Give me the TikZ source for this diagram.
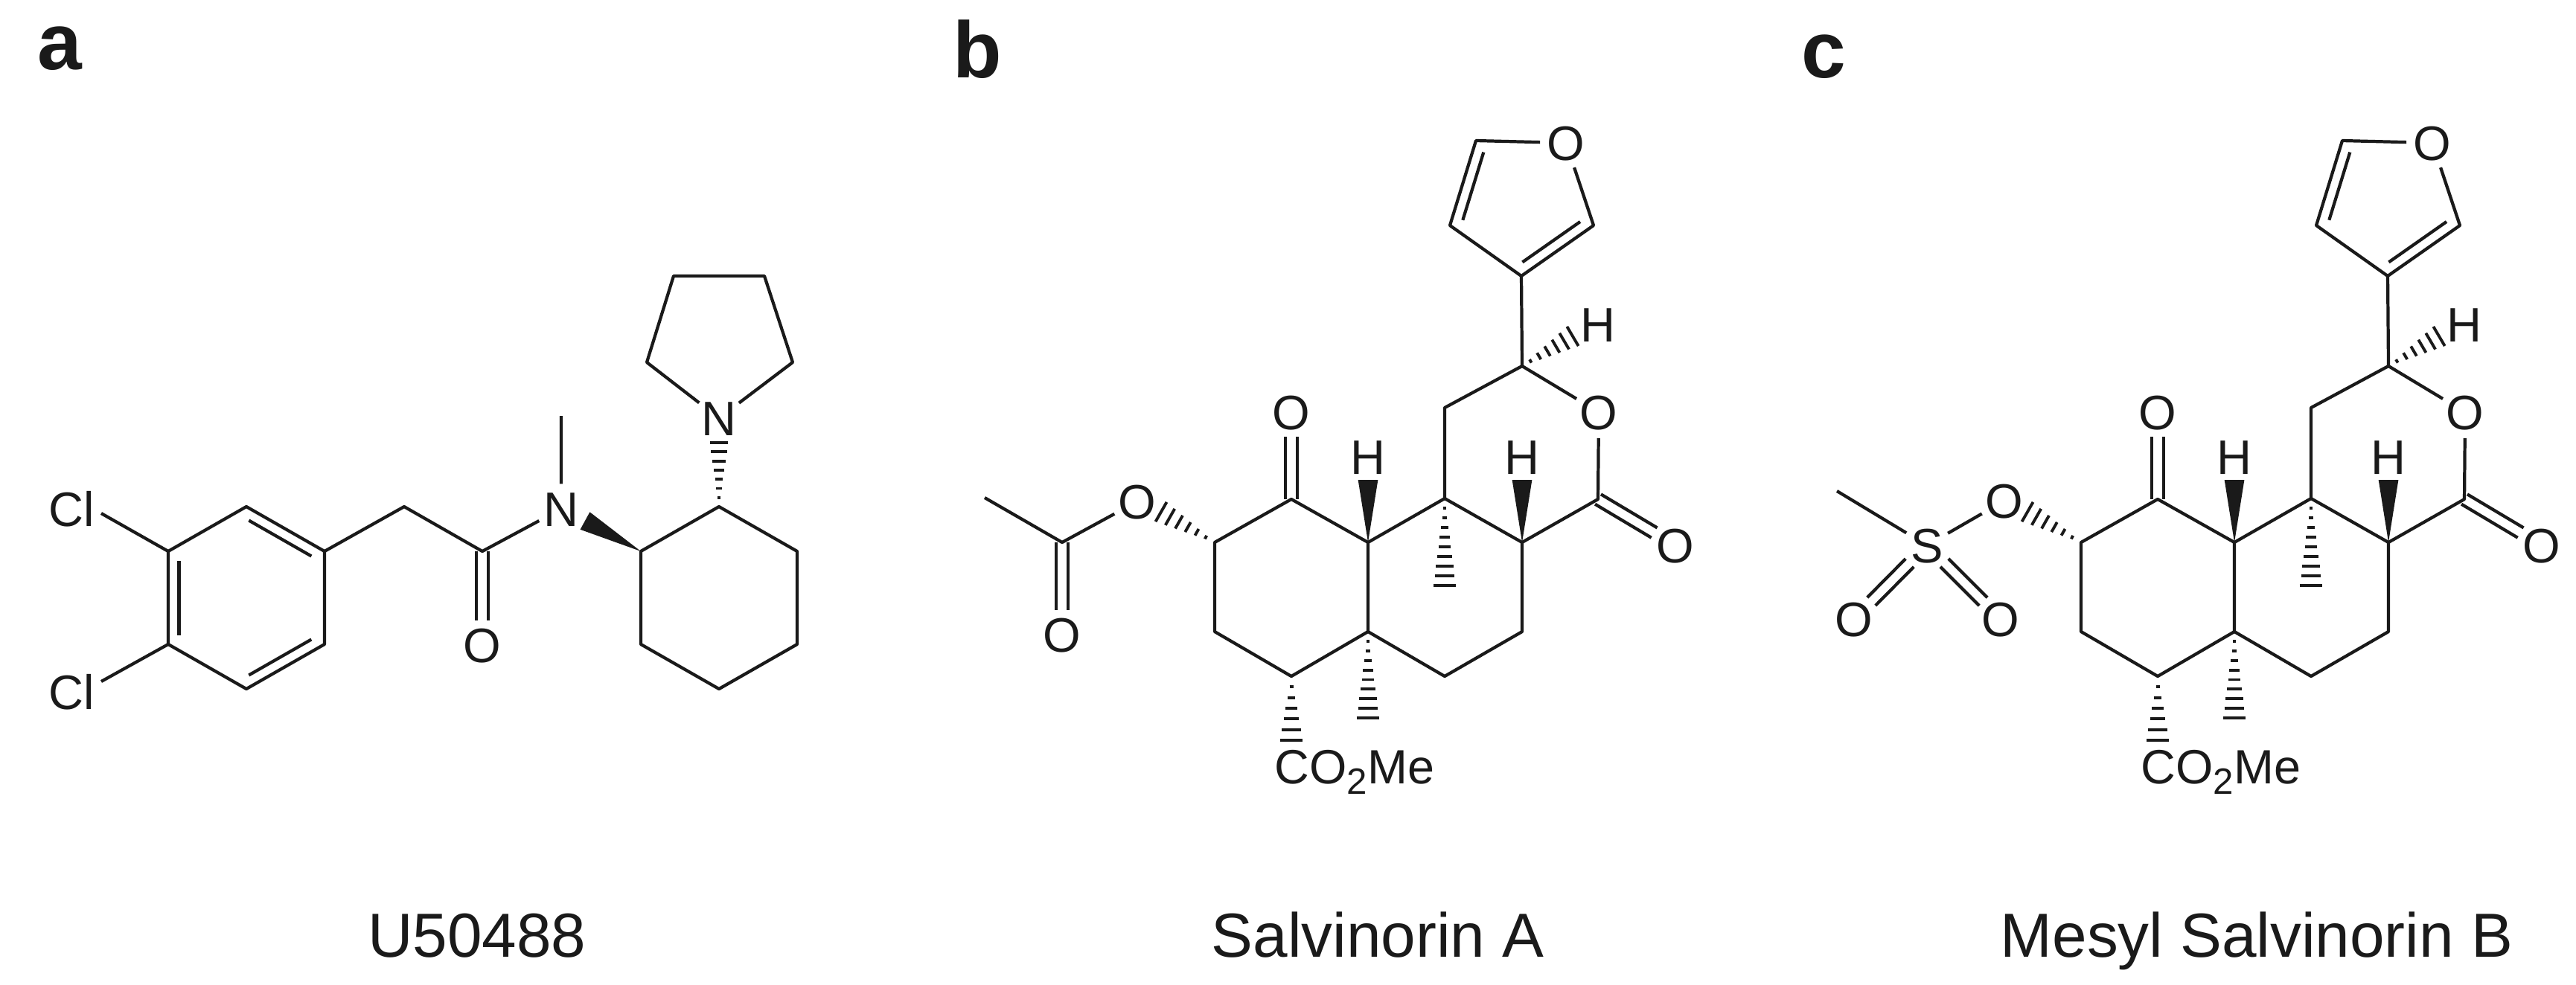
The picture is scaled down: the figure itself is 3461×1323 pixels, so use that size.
\documentclass[tikz,border=0pt]{standalone}
\usepackage{xcolor}
\usepackage{fontspec}
\setmainfont{Liberation Sans}
\usetikzlibrary{calc}
\definecolor{ink}{HTML}{1A1A1A}
\tikzset{
	bond/.style={ink,line width=1.2pt,line join=round},
	hash/.style={ink,line width=1.1pt},
	atom/.style={circle,inner sep=0pt,text=ink,font=\fontsize{18.5}{22}\selectfont,text height=13.2pt,text depth=0pt},
	group/.style={inner sep=0pt,text=ink,font=\fontsize{18.4}{22}\selectfont,anchor=base west},
	title/.style={text=ink,font=\fontsize{23.8}{28}\selectfont,anchor=base},
	panel/.style={text=ink,font=\fontsize{30.5}{36}\selectfont\bfseries,anchor=base}
}
\newcommand{\innerbond}[3]{\draw[bond] ($(#1)!.1!(#2)!4.1pt!#3:(#2)$)--($(#2)!.1!(#1)!4.1pt!-#3:(#1)$);}
\newcommand{\twobond}[3][]{
	\draw[bond,shorten >=9.4pt,#1] ($(#2)!2.2pt!90:(#3)$)--($(#3)!2.2pt!-90:(#2)$);
	\draw[bond,shorten >=9.4pt,#1] ($(#2)!2.2pt!-90:(#3)$)--($(#3)!2.2pt!90:(#2)$);
}
\newcommand{\wedgebond}[2]{\fill[ink] (#1)--($(#2)!3.8pt!90:(#1)$)--($(#2)!3.8pt!-90:(#1)$)--cycle;}
\newcommand{\hashbond}[4][4.3pt]{\foreach \i in {1,...,#4}{\draw[hash] ($(#2)!\i/#4!(#3)!\i/#4*#1!90:(#2)$)--($(#2)!\i/#4!(#3)!\i/#4*#1!-90:(#2)$);}}
% the part that b and c share, at the coordinates of b
\newcommand{\salvcore}{
	\node (furO) at (2104,192)[atom]{O};
	\coordinate (fur2) at (1983,189);
	\coordinate (fur3) at (1948,303);
	\coordinate (fur4) at (2044,371);
	\coordinate (fur5) at (2141,303);
	\coordinate (cH) at (2045,492);
	\coordinate (cH2) at (1941,548);
	\node (ringO) at (2148,554)[atom]{O};
	\coordinate (lac) at (2147,671);
	\node (lacO) at (2251,733)[atom]{O};
	\coordinate (cq) at (1941,670);
	\coordinate (cR) at (2045,729);
	\coordinate (cL) at (1838,729);
	\coordinate (keto) at (1735,671);
	\node (ketoO) at (1735,554)[atom]{O};
	\coordinate (cOx) at (1632,729);
	\coordinate (c1) at (1632,849);
	\coordinate (c2) at (1735,909);
	\coordinate (c3) at (1838,849);
	\coordinate (c4) at (1941,909);
	\coordinate (c5) at (2045,849);
	\node (hTop) at (2147,436)[atom]{H};
	\node (hL) at (1838,614)[atom]{H};
	\node (hR) at (2045,614)[atom]{H};
	\coordinate (hTopEnd) at (2113,452);
	\coordinate (hLEnd) at (1838,645);
	\coordinate (hREnd) at (2045,645);
	\coordinate (meQ) at (1941,787);
	\coordinate (meL) at (1838,965);
	\coordinate (estEnd) at (1735,995);
	\coordinate (oxEnd) at (1560,688);
	\node (est) at (1712,1053)[group]{CO\raisebox{-4pt}{\fontsize{14}{14}\selectfont 2}Me};
	\draw[bond] (furO)--(fur2)--(fur3)--(fur4)--(fur5)--(furO);
	\innerbond{fur2}{fur3}{90}
	\innerbond{fur4}{fur5}{90}
	\draw[bond] (fur4)--(cH)--(cH2)--(cq)--(cL)--(keto)--(cOx)--(c1)--(c2)--(c3)--(cL);
	\draw[bond] (cH)--(ringO)--(lac)--(cR)--(cq);
	\draw[bond] (cR)--(c5)--(c4)--(c3);
	\twobond{keto}{ketoO}
	\twobond{lac}{lacO}
	\wedgebond{cL}{hLEnd}
	\wedgebond{cR}{hREnd}
	\hashbond{cH}{hTopEnd}{6}
	\hashbond{cq}{meQ}{9}
	\hashbond{c3}{meL}{9}
	\hashbond{c2}{estEnd}{6}
	\hashbond{cOx}{oxEnd}{6}
}

\begin{document}
\begin{tikzpicture}[x=0.01cm,y=-0.01cm]
	\useasboundingbox (0,0) rectangle (3461,1323);
	\node (lblA) at (80,93)[panel]{a};
	\node (lblB) at (1313,104)[panel]{b};
	\node (lblC) at (2450,104)[panel]{c};
	\node (nameA) at (641,1286)[title]{U50488};
	\node (nameB) at (1851,1286)[title]{Salvinorin A};
	\node (nameC) at (3032,1286)[title]{Mesyl Salvinorin B};
	% a
	\coordinate (ar1) at (226,741);
	\coordinate (ar2) at (331,681);
	\coordinate (ar3) at (436,741);
	\coordinate (ar4) at (436,866);
	\coordinate (ar5) at (331,926);
	\coordinate (ar6) at (226,866);
	\coordinate (ch2) at (543,681);
	\coordinate (amide) at (648,741);
	\node (amideO) at (648,867)[atom]{O};
	\node (amideN) at (754,684)[atom]{N};
	\coordinate (me) at (754,559);
	\coordinate (cy1) at (861,741);
	\coordinate (cy2) at (966,681);
	\coordinate (cy3) at (1071,741);
	\coordinate (cy4) at (1071,866);
	\coordinate (cy5) at (966,926);
	\coordinate (cy6) at (861,866);
	\node (pyrN) at (966,562)[atom]{N};
	\coordinate (py1) at (869,487);
	\coordinate (py2) at (905,371);
	\coordinate (py3) at (1027,371);
	\coordinate (py4) at (1065,487);
	\node (clA) at (96,684)[atom]{Cl};
	\node (clB) at (96,930)[atom]{Cl};
	\coordinate (clEndA) at (136,690);
	\coordinate (clEndB) at (136,916);
	\coordinate (wedgeEnd) at (786,700);
	\coordinate (hashEnd) at (966,595);
	\draw[bond] (ar1)--(ar2)--(ar3)--(ar4)--(ar5)--(ar6)--cycle;
	\innerbond{ar2}{ar3}{-90}
	\innerbond{ar1}{ar6}{90}
	\innerbond{ar4}{ar5}{-90}
	\draw[bond] (clEndA)--(ar1) (clEndB)--(ar6);
	\draw[bond] (ar3)--(ch2)--(amide)--(amideN)--(me);
	\twobond{amide}{amideO}
	\draw[bond] (cy1)--(cy2)--(cy3)--(cy4)--(cy5)--(cy6)--cycle;
	\draw[bond] (pyrN)--(py1)--(py2)--(py3)--(py4)--(pyrN);
	\wedgebond{cy1}{wedgeEnd}
	\hashbond[3.5pt]{cy2}{hashEnd}{7}
	% b
	\begin{scope}[name prefix=b-]
		\salvcore
		\node (oxO) at (1528,674)[atom]{O};
		\coordinate (ac) at (1427,729);
		\coordinate (acMe) at (1323,669);
		\node (acO) at (1427,853)[atom]{O};
		\draw[bond] (oxO)--(ac)--(acMe);
		\twobond{ac}{acO}
	\end{scope}
	% c
	\begin{scope}[name prefix=c-,shift={(1164,0)}]
		\salvcore
		\node (oxO) at (1529,673)[atom]{O};
		\node (sul) at (1425,733)[atom]{S};
		\coordinate (sMe) at (1304,660);
		\node (sA) at (1327,832)[atom]{O};
		\node (sB) at (1524,832)[atom]{O};
		\draw[bond] (oxO)--(sul)--(sMe);
		\twobond[shorten <=9.4pt]{sul}{sA}
		\twobond[shorten <=9.4pt]{sul}{sB}
	\end{scope}
\end{tikzpicture}
\end{document}
